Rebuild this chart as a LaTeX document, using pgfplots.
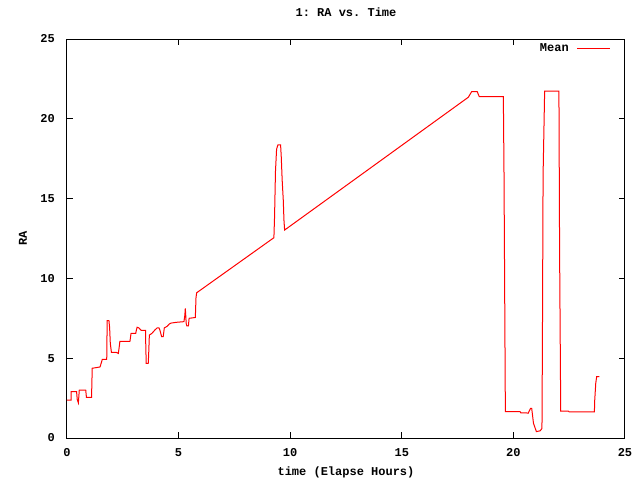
\documentclass[border=0pt]{standalone}
\usepackage{fontspec}
\setmonofont{Liberation Mono}
\usepackage{pgfplots}
\pgfplotsset{compat=1.18}
\definecolor{gpred}{RGB}{255,0,0}
\newcommand{\gpfont}{\fontsize{9}{10}\selectfont\ttfamily\bfseries}
\begin{document}
\begin{tikzpicture}
\useasboundingbox (-50.25pt,-31.5pt) rectangle (429.75pt,328.5pt);
\begin{axis}[
  scale only axis,
  width=418.5pt, height=299.25pt,
  at={(0,0)}, anchor=south west,
  xmin=0, xmax=25, ymin=0, ymax=25,
  xtick={0,5,10,15,20,25}, ytick={0,5,10,15,20,25},
  tick align=inside, major tick length=4.5pt,
  axis line style={black, line width=0.75pt},
  every tick/.style={black, line width=0.75pt},
  /pgf/number format/assume math mode=true,
  tick label style={font=\gpfont, inner sep=0pt},
  xticklabel style={anchor=center, yshift=-11.25pt},
  yticklabel style={anchor=east, xshift=-9pt},
  title={1: RA vs. Time},
  title style={font=\gpfont, at={(axis description cs:0.5,1.0476)}, anchor=center},
  xlabel={time (Elapse Hours)},
  ylabel={RA},
  every axis x label/.style={font=\gpfont, at={(axis description cs:0.5,-0.0852)}, anchor=center},
  every axis y label/.style={font=\gpfont, at={(axis description cs:-0.0789,0.5)}, anchor=center, rotate=90},
  legend plot pos=right,
  legend style={draw=none, fill=none, font=\gpfont, at={(axis description cs:0.975,0.975)}, anchor=east, inner sep=0pt, nodes={inner sep=0pt}, column sep=6pt},
  legend image code/.code={\draw[#1] (0pt,0pt) -- (24.75pt,0pt);},
]
\addplot[gpred, line width=0.75pt, mark=none] coordinates {
(0,2.38) (0.18,2.38) (0.18,2.9) (0.43,2.9) (0.46,2.4) (0.51,2.2) (0.55,3.0) (0.84,3.0) (0.87,2.55) (1.1,2.55) (1.13,4.37) (1.48,4.45) (1.55,4.77) (1.58,4.93) (1.78,4.93) (1.8,7.35) (1.88,7.35) (1.91,6.9) (1.94,5.93) (1.99,5.37) (2.2,5.37) (2.3,5.3) (2.33,5.6) (2.37,6.06) (2.82,6.06) (2.87,6.56) (3.08,6.56) (3.11,6.77) (3.14,6.94) (3.22,6.9) (3.32,6.75) (3.52,6.75) (3.53,5.72) (3.55,4.68) (3.64,4.68) (3.66,5.27) (3.69,6.45) (3.8,6.55) (3.94,6.77) (4.04,6.9) (4.12,6.9) (4.16,6.77) (4.24,6.35) (4.31,6.35) (4.33,6.56) (4.36,6.9) (4.49,7.0) (4.58,7.14) (4.66,7.2) (4.91,7.25) (5.24,7.29) (5.28,7.7) (5.3,8.12) (5.32,7.7) (5.34,7.18) (5.37,7.02) (5.44,7.02) (5.47,7.5) (5.75,7.55) (5.78,8.8) (5.81,9.1)
(9.27,12.55) (9.3,13.9) (9.34,16.7) (9.39,18.1) (9.45,18.36) (9.57,18.36) (9.6,17.6) (9.64,16.17) (9.69,14.9) (9.72,13.66) (9.75,13.03)
(17.98,21.35) (18.13,21.7) (18.38,21.7) (18.47,21.39) (19.55,21.39) (19.58,16.48) (19.62,6.56) (19.64,1.65) (20.3,1.65) (20.33,1.58) (20.56,1.58) (20.66,1.55) (20.77,1.86) (20.82,1.86) (20.9,0.92) (21.03,0.4) (21.2,0.45) (21.28,0.6) (21.3,5.93) (21.33,16.48) (21.4,21.74) (22.04,21.74) (22.07,11.67) (22.12,1.69) (22.46,1.69) (22.5,1.63) (23.63,1.63) (23.64,2.28) (23.69,3.43) (23.73,3.84) (23.85,3.84)
};
\addlegendentry{Mean}
\end{axis}
\end{tikzpicture}
\end{document}
